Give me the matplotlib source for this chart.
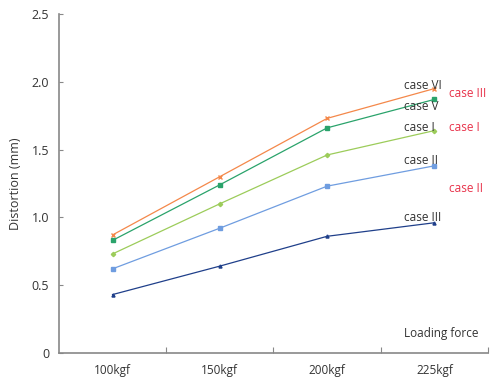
import matplotlib
matplotlib.use("Agg")
import matplotlib.pyplot as plt

forces = ["100kgf", "150kgf", "200kgf", "225kgf"]
case_vi = [0.87, 1.30, 1.73, 1.95]
case_v = [0.83, 1.24, 1.66, 1.87]
case_i = [0.73, 1.10, 1.46, 1.64]
case_ii = [0.62, 0.92, 1.23, 1.38]
case_iii = [0.43, 0.64, 0.86, 0.96]
y_ticks = [0, 0.5, 1.0, 1.5, 2.0, 2.5]
y_tick_labels = ["0", "0.5", "1.0", "1.5", "2.0", "2.5"]

plt.rcParams["font.family"] = ["Open Sans", "DejaVu Sans"]

fig = plt.figure(figsize=(4.95, 3.79), dpi=100)
ax = fig.add_axes([0.119, 0.069, 0.867, 0.894])

xs = [0.5, 1.5, 2.5, 3.5]
ax.plot(xs, case_vi, color="#f4884a", marker="x", markersize=3, lw=0.9)
ax.plot(xs, case_v, color="#2aa36b", marker="s", markersize=2.2, lw=0.9)
ax.plot(xs, case_i, color="#9ccc5a", marker="D", markersize=2.2, lw=0.9)
ax.plot(xs, case_ii, color="#6f9de0", marker="s", markersize=2.2, lw=0.9)
ax.plot(xs, case_iii, color="#1f3f8a", marker="^", markersize=2.2, lw=0.9)

# labels near line ends
dark = "#333333"
red = "#e8324a"
fs = 8.5
ax.text(3.22, 1.95, "case VI", color=dark, fontsize=fs, va="baseline")
ax.text(3.22, 1.79, "case V", color=dark, fontsize=fs, va="baseline")
ax.text(3.22, 1.64, "case I", color=dark, fontsize=fs, va="baseline")
ax.text(3.22, 1.39, "case II", color=dark, fontsize=fs, va="baseline")
ax.text(3.22, 0.97, "case III", color=dark, fontsize=fs, va="baseline")
ax.text(3.64, 1.91, "case III", color=red, fontsize=fs, va="center")
ax.text(3.64, 1.66, "case I", color=red, fontsize=fs, va="center")
ax.text(3.64, 1.21, "case II", color=red, fontsize=fs, va="center")
ax.text(3.22, 0.14, "Loading force", color=dark, fontsize=fs, va="center")

ax.set_xlim(0, 4)
ax.set_ylim(0, 2.5)
ax.set_xticks([1, 2, 3, 4])
ax.set_xticklabels([])
ax.set_xticks(xs, minor=True)
ax.set_xticklabels(forces, minor=True, fontsize=8.5, color=dark)
ax.tick_params(axis="x", which="minor", length=0, pad=8)
ax.tick_params(axis="x", which="major", direction="in", length=4, color="#888888")
ax.set_yticks(y_ticks)
ax.set_yticklabels(y_tick_labels, fontsize=9, color=dark)
ax.tick_params(axis="y", direction="in", length=3, color="#888888", pad=7)
ax.set_ylabel("Distortion (mm)", fontsize=9, color=dark, labelpad=7)

for s in ["top", "right"]:
    ax.spines[s].set_visible(False)
for s in ["left", "bottom"]:
    ax.spines[s].set_color("#888888")
    ax.spines[s].set_linewidth(1.2)

fig.savefig("out.png", dpi=100)
